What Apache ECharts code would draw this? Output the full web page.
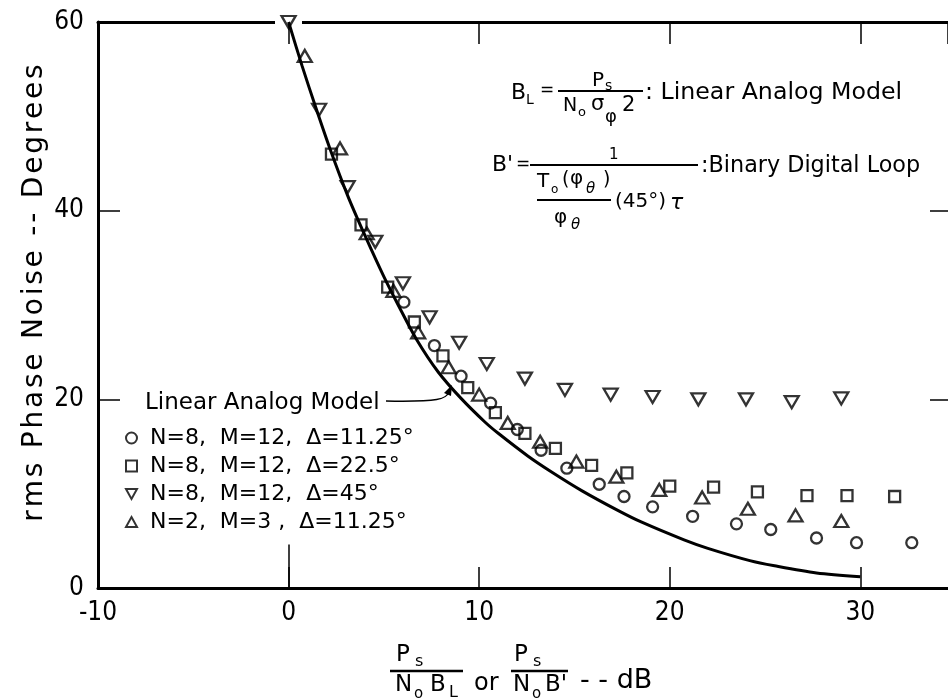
<!DOCTYPE html>
<html><head><meta charset="utf-8">
<script src="https://cdn.jsdelivr.net/npm/echarts@6/dist/echarts.min.js"></script>
<style>html,body{margin:0;padding:0;background:#fff}#c{width:948px;height:700px}</style>
</head><body><div id="c"></div>
<script>
// ---- data ----
const curveX = [0, 0.7, 1.45, 2.2, 3.1, 4.0, 5.0, 5.75, 6.7, 7.85, 9.05, 10.3, 11.0, 12.55, 13.8, 15.4, 17.3, 18.5, 20.75, 22.0, 24.2, 25.5, 27.7, 30.0];
const curveY = [60, 55.4, 50.8, 46.4, 41.6, 37.4, 33.0, 30.0, 26.4, 22.9, 20.1, 17.6, 16.4, 14.0, 12.3, 10.3, 8.2, 7.0, 5.1, 4.2, 2.9, 2.35, 1.6, 1.2];

const circX = [6.05, 7.65, 9.05, 10.6, 12.0, 13.25, 14.6, 16.3, 17.6, 19.1, 21.2, 23.5, 25.3, 27.7, 29.8, 32.7];
const circY = [30.3, 25.7, 22.45, 19.6, 16.8, 14.6, 12.7, 11.0, 9.7, 8.6, 7.6, 6.8, 6.2, 5.3, 4.8, 4.8];

const sqX = [2.25, 3.8, 5.2, 6.6, 8.1, 9.4, 10.85, 12.4, 14.0, 15.9, 17.75, 20.0, 22.3, 24.6, 27.2, 29.3, 31.8];
const sqY = [46.0, 38.5, 31.9, 28.2, 24.6, 21.25, 18.6, 16.4, 14.8, 13.0, 12.2, 10.8, 10.7, 10.2, 9.8, 9.8, 9.7];

const downX = [0, 1.6, 3.1, 4.55, 6.0, 7.4, 8.95, 10.4, 12.4, 14.5, 16.9, 19.1, 21.5, 24.0, 26.4, 29.0];
const downY = [60, 50.7, 42.5, 36.7, 32.3, 28.7, 26.0, 23.75, 22.2, 21.0, 20.5, 20.25, 20.0, 20.0, 19.7, 20.1];

const upX = [0.85, 2.7, 4.1, 5.5, 6.8, 8.4, 10.0, 11.5, 13.2, 15.1, 17.2, 19.45, 21.7, 24.1, 26.6, 29.0];
const upY = [56.4, 46.6, 37.6, 31.5, 27.1, 23.4, 20.5, 17.5, 15.5, 13.4, 11.8, 10.4, 9.6, 8.4, 7.7, 7.1];

const seriesNames = ['N=8,  M=12,  \u0394=11.25\u00b0', 'N=8,  M=12,  \u0394=22.5\u00b0', 'N=8,  M=12,  \u0394=45\u00b0', 'N=2,  M=3 ,  \u0394=11.25\u00b0'];
const curveName = 'Linear Analog Model';
const yTitle = 'rms Phase Noise -- Degrees';

// ---- build ----
const zip = (xs, ys) => xs.map((x, i) => [x, ys[i]]);
const FN = '"Liberation Sans Narrow","DejaVu Sans Condensed",sans-serif';
const FT = '"DejaVu Sans",sans-serif';
const spaced = s => s.split('').join('\u200a');
const DOWN = 'path://M0,0L10,0L5,9Z';
const UP = 'path://M5,0L10,9L0,9Z';
const symbols = ['circle', 'rect', DOWN, UP];

function T(x, y, text, size, st) {
  return { type: 'text', x: x, y: y, z: 100,
    style: Object.assign({ text: text, fontSize: size, fontFamily: FT, fill: '#000', align: 'left', verticalAlign: 'middle' }, st || {}) };
}
function L(x1, y1, x2, y2, w) {
  return { type: 'line', z: 100, shape: { x1: x1, y1: y1, x2: x2, y2: y2 }, style: { stroke: '#000', lineWidth: w || 2 } };
}

const graphics = [
  { type: 'rect', z: 1, shape: { x: 275, y: 19, width: 27, height: 6 }, style: { fill: '#fff' } },
  { type: 'text', x: 35, y: 293, rotation: Math.PI / 2, z: 100,
    style: { text: spaced(yTitle), fontSize: 28, fontFamily: FT, fill: '#000', align: 'center', verticalAlign: 'middle' } },
  // formula 1
  T(511, 93, 'B', 22), T(526, 100, 'L', 14), T(540, 91, '=', 17),
  T(592, 81, 'P', 20), T(605, 86, 's', 14),
  L(558, 91, 643, 91, 2),
  T(563, 106, 'N', 19), T(578, 113, 'o', 13), T(591, 105, '\u03c3', 21), T(605, 117, '\u03c6', 18), T(622, 106, '2', 21),
  T(645, 93, ': Linear Analog Model', 23.7),
  // formula 2
  T(492, 165, "B'", 22), T(516, 165, '=', 17),
  T(609, 155, '1', 15),
  L(530, 165, 698, 165, 2),
  T(701, 166, ':Binary Digital Loop', 22.3),
  T(537, 182, 'T', 20), T(551, 190, 'o', 12), T(562, 180, '(', 19), T(570, 179, '\u03c6', 20),
  T(586, 189, '\u03b8', 15, { fontStyle: 'italic' }), T(603, 180, ')', 19),
  L(537, 200, 611, 200, 2),
  T(615, 202, '(45\u00b0)', 20), T(670, 203, '\u03c4', 22, { fontStyle: 'italic' }),
  T(554, 218, '\u03c6', 20), T(571, 225, '\u03b8', 15, { fontStyle: 'italic' }),
  // x axis title
  T(396, 655, 'P', 23), T(415, 662, 's', 16),
  L(390, 671, 463, 671, 2.5),
  T(395, 685, 'N', 23), T(414, 694, 'o', 15), T(430, 685, 'B', 23), T(449, 693, 'L', 16),
  T(474, 684, 'or', 24),
  T(514, 655, 'P', 23), T(533, 662, 's', 16),
  L(511, 671, 568, 671, 2.5),
  T(513, 685, 'N', 23), T(532, 694, 'o', 15), T(545, 685, "B'", 23),
  T(580, 681, '- - dB', 27),
  // annotation with arrow
  T(145, 403, curveName, 23),
  { type: 'bezierCurve', z: 100, shape: { x1: 386, y1: 401, x2: 449, y2: 392, cpx1: 440, cpy1: 402, cpx2: 446, cpy2: 399 },
    style: { stroke: '#000', lineWidth: 1.5, fill: null } },
  { type: 'polygon', z: 100, shape: { points: [[452, 385], [444, 393], [451, 396]] }, style: { fill: '#000' } }
];

const axisLine = { show: true, onZero: false, lineStyle: { color: '#000', width: 3 } };
const tickStyle = { color: '#000', width: 1.5 };
const scatterStyle = { color: 'rgba(0,0,0,0)', borderColor: '#000', borderWidth: 2.3 };

const option = {
  backgroundColor: '#fff',
  animation: false,
  grid: { left: 98, top: 22, right: 0, height: 566 },
  xAxis: [
    { type: 'value', min: -10, max: 34.6, interval: 10, position: 'bottom',
      axisLine: axisLine, axisTick: { inside: true, length: 21, lineStyle: tickStyle },
      axisLabel: { color: '#000', fontSize: 26, fontFamily: FN, margin: 12, showMaxLabel: false },
      splitLine: { show: false } },
    { type: 'value', min: -10, max: 34.6, interval: 10, position: 'top',
      axisLine: axisLine, axisTick: { inside: true, length: 22, lineStyle: tickStyle },
      axisLabel: { show: false }, splitLine: { show: false } }
  ],
  yAxis: [
    { type: 'value', min: 0, max: 60, interval: 20, position: 'left',
      axisLine: axisLine, axisTick: { inside: true, length: 22, lineStyle: tickStyle },
      axisLabel: { color: '#000', fontSize: 26, fontFamily: FN, margin: 14 },
      splitLine: { show: false } },
    { type: 'value', min: 0, max: 60, interval: 20, position: 'right',
      axisLine: { show: false, onZero: false }, axisTick: { show: true, inside: true, length: 18, lineStyle: tickStyle },
      axisLabel: { show: false }, splitLine: { show: false } }
  ],
  legend: {
    orient: 'vertical', left: 120, top: 421, itemWidth: 11, itemHeight: 11, itemGap: 4,
    selectedMode: false, symbolRotate: 0,
    itemStyle: { color: 'rgba(0,0,0,0)', borderColor: '#000', borderWidth: 2 },
    textStyle: { fontSize: 22, fontFamily: FT, color: '#000', lineHeight: 24, padding: [0, 0, 0, 8] },
    data: seriesNames.map((n, i) => ({ name: n, icon: symbols[i] }))
  },
  series: [
    { name: curveName, type: 'line', data: zip(curveX, curveY), showSymbol: false, smooth: 0.3,
      lineStyle: { color: '#000', width: 3 }, z: 2, clip: false,
      markLine: { silent: true, symbol: 'none', label: { show: false },
        lineStyle: { color: '#000', width: 1.5, type: 'solid' },
        data: [[{ coord: [0, 0] }, { coord: [0, 4.6] }]] } },
    { name: seriesNames[0], type: 'scatter', data: zip(circX, circY), symbol: symbols[0], symbolSize: 11,
      itemStyle: scatterStyle, z: 3, clip: false },
    { name: seriesNames[1], type: 'scatter', data: zip(sqX, sqY), symbol: symbols[1], symbolSize: 11,
      itemStyle: scatterStyle, z: 3, clip: false },
    { name: seriesNames[2], type: 'scatter', data: zip(downX, downY), symbol: symbols[2], symbolSize: [14, 12],
      itemStyle: scatterStyle, z: 3, clip: false },
    { name: seriesNames[3], type: 'scatter', data: zip(upX, upY), symbol: symbols[3], symbolSize: [14, 12],
      itemStyle: scatterStyle, z: 3, clip: false }
  ],
  graphic: graphics
};

const chart = echarts.init(document.getElementById('c'), null, { renderer: 'canvas' });
chart.setOption(option);
</script>
</body></html>
